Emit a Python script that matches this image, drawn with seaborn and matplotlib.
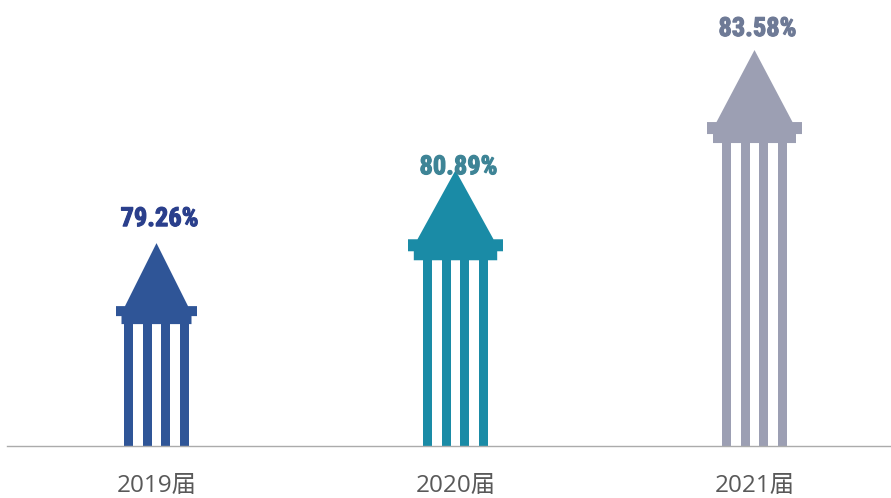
import pandas as pd
import matplotlib.pyplot as plt
import matplotlib.patheffects as pe
import seaborn as sns

categories = ['2019届', '2020届', '2021届']
rates = [79.26, 80.89, 83.58]
rate_labels = ['79.26%', '80.89%', '83.58%']

bar_colors = ['#2F5597', '#1A8BA6', '#9C9FB3']
label_colors = ['#2A3F8C', '#3E8496', '#6E7A96']

stripes = ['a', 'b', 'c', 'd']

# head of each column in pixels: triangle height, triangle half width,
# cap height, cap half width, collar height, collar half width
head_sizes = [
    (63, 31.5, 10, 40.5, 8, 35),
    (69, 38, 12, 47.5, 9, 41.7),
    (72, 38, 12, 47.5, 9, 41.5),
]
label_offsets = [26, 5, 23]

sns.set_theme(style='white')
plt.rcParams['font.family'] = ['Open Sans', 'Noto Sans CJK SC', 'DejaVu Sans']

fig = plt.figure(figsize=(8.91, 4.98), dpi=100)
ax = fig.add_axes([7 / 891, 52 / 498, 884 / 891, 446 / 498])

y_low, y_high = 74.72, 84.7
px_x = 1 / 299
px_y = (y_high - y_low) / 446

rows = []
for cat, rate, head in zip(categories, rates, head_sizes):
    body_top = rate - (head[0] + head[2] + head[4]) * px_y
    for s in stripes:
        rows.append({'cat': cat, 'stripe': s, 'top': body_top})
df = pd.DataFrame(rows)

sns.barplot(data=df, x='cat', y='top', hue='stripe', order=categories,
            width=0.25, gap=0.52, errorbar=None, legend=False, ax=ax)

for bar in ax.patches:
    i = int(round(bar.get_x() + bar.get_width() / 2))
    bar.set_facecolor(bar_colors[i])
    bar.set_edgecolor('none')

for i, (rate, head) in enumerate(zip(rates, head_sizes)):
    tri_h, tri_w, cap_h, cap_w, col_h, col_w = head
    base = rate - tri_h * px_y
    cap_low = base - cap_h * px_y
    col_low = cap_low - col_h * px_y
    xs = [i, i + tri_w * px_x, i + cap_w * px_x, i + cap_w * px_x,
          i + col_w * px_x, i + col_w * px_x,
          i - col_w * px_x, i - col_w * px_x,
          i - cap_w * px_x, i - cap_w * px_x, i - tri_w * px_x]
    ys = [rate, base, base, cap_low, cap_low, col_low,
          col_low, cap_low, cap_low, base, base]
    ax.fill(xs, ys, color=bar_colors[i], linewidth=0, zorder=3)
    t = ax.text(i + 3 * px_x, rate + (label_offsets[i] - 2) * px_y, rate_labels[i],
                ha='center', va='center', color=label_colors[i], fontsize=19, fontweight='bold',
                family=['Roboto Condensed', 'DejaVu Sans'], zorder=4)
    t.set_path_effects([pe.withStroke(linewidth=0.8, foreground=label_colors[i])])

ax.set_xlim(-0.5, -0.5 + 884 * px_x)
ax.set_ylim(y_low, y_high)
ax.set_xlabel('')
ax.set_ylabel('')
ax.set_yticks([])
ax.tick_params(axis='x', length=0, pad=20, labelsize=17.5, labelcolor='#595959')
sns.despine(ax=ax, left=True)
ax.spines['bottom'].set_color('#ABABAB')
ax.spines['bottom'].set_linewidth(1)

fig.savefig('out.png', dpi=100)
